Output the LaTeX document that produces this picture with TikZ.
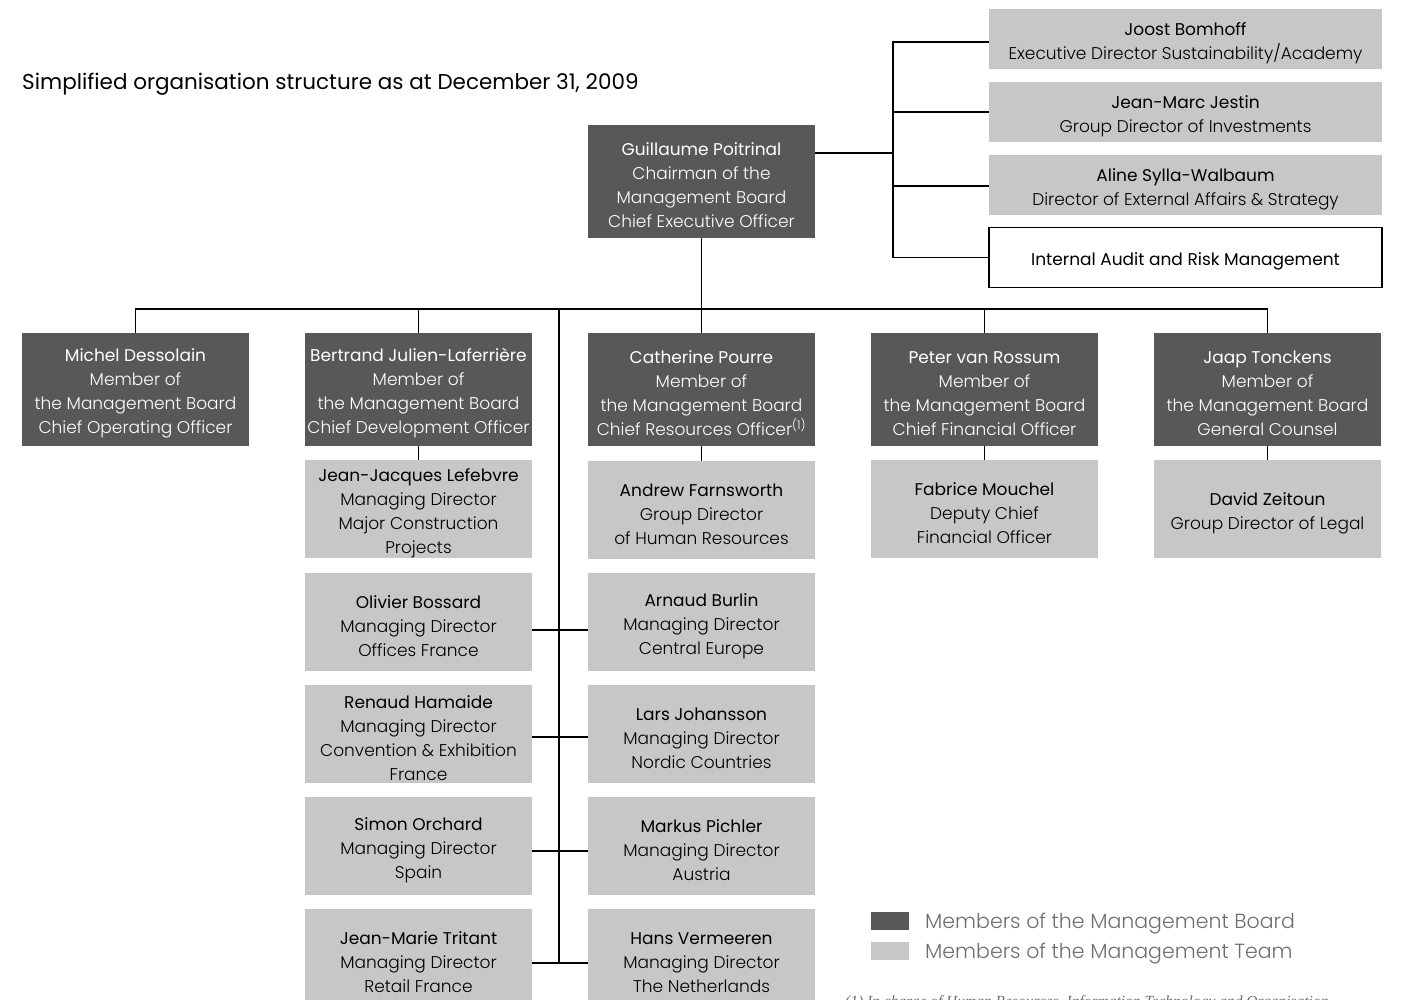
\documentclass[tikz,border=0pt]{standalone}
\usepackage{fontspec}
\setmainfont{Poppins Light}
\newfontfamily\namefont{Poppins}
\newfontfamily\notefont{Liberation Serif}
\usetikzlibrary{positioning}

\definecolor{boardgray}{HTML}{58585A}
\definecolor{teamgray}{HTML}{C6C7C9}
\definecolor{keygray}{HTML}{6D6E70}

\newcommand{\who}[1]{{\namefont\rule{0pt}{21pt}#1}}

\begin{document}
\begin{tikzpicture}[x=1pt,y=-1pt]
  \tikzstyle{every node}+=[inner sep=0pt]
  \tikzstyle{box}=[minimum width=227pt, minimum height=98pt, align=center, font=\fontsize{17}{24}\selectfont]
  \tikzstyle{board}=[box, fill=boardgray, text=white, minimum height=113pt]
  \tikzstyle{team}=[box, fill=teamgray, text=black]
  \tikzstyle{staff}=[box, fill=teamgray, minimum width=393pt, minimum height=60pt]
  \tikzstyle{audit}=[staff, fill=white, draw=black, line width=1.2pt]
  \tikzstyle{link}=[black, line width=1.2pt]
  \tikzstyle{key}=[minimum width=38pt, minimum height=18pt]
  \useasboundingbox (0,0) rectangle (1401,1000);

  \node[anchor=base west, font=\namefont\fontsize{21.5}{26}\selectfont] (title) at (22,90)
    {Simplified organisation structure as at December 31, 2009};

  % chairman and staff
  \node[board] (ceo) at (701.5,181.5) {\who{Guillaume Poitrinal}\\Chairman of the\\Management Board\\Chief Executive Officer};
  \node[staff] (joost) at (1185.5,39.5) {\who{Joost Bomhoff}\\Executive Director Sustainability/Academy};
  \node[staff] (jeanmarc) at (1185.5,112) {\who{Jean-Marc Jestin}\\Group Director of Investments};
  \node[staff] (aline) at (1185.5,185) {\who{Aline Sylla-Walbaum}\\Director of External Affairs \& Strategy};
  \node[audit] (audit) at (1185.5,257.5) {\who{Internal Audit and Risk Management}};
  \coordinate (hub) at (893,153);

  % management board
  \node[board] (michel) at (135.5,389.5) {\who{Michel Dessolain}\\Member of\\the Management Board\\Chief Operating Officer};
  \node[board] (bertrand) at (418.5,389.5) {\who{Bertrand Julien-Laferrière}\\Member of\\the Management Board\\Chief Development Officer};
  \node[board] (catherine) at (701.5,389.5) {\who{Catherine Pourre}\\Member of\\the Management Board\\Chief Resources Officer\textsuperscript{(1)}};
  \node[board] (peter) at (984.5,389.5) {\who{Peter van Rossum}\\Member of\\the Management Board\\Chief Financial Officer};
  \node[board] (jaap) at (1267.5,389.5) {\who{Jaap Tonckens}\\Member of\\the Management Board\\General Counsel};
  \coordinate (bus) at (701.5,309);
  \coordinate (spine) at (559,309);

  % management team
  \node[team] (jeanjacques) at (418.5,509) {\who{Jean-Jacques Lefebvre}\\Managing Director\\Major Construction\\Projects};
  \node[team] (andrew) at (701.5,510) {\who{Andrew Farnsworth}\\Group Director\\of Human Resources};
  \node[team] (fabrice) at (984.5,509) {\who{Fabrice Mouchel}\\Deputy Chief\\Financial Officer};
  \node[team] (david) at (1267.5,509) {\who{David Zeitoun}\\Group Director of Legal};

  \node[team] (olivier) at (418.5,622) {\who{Olivier Bossard}\\Managing Director\\Offices France};
  \node[team] (arnaud) at (701.5,622) {\who{Arnaud Burlin}\\Managing Director\\Central Europe};
  \node[team] (renaud) at (418.5,734) {\who{Renaud Hamaide}\\Managing Director\\Convention \& Exhibition\\France};
  \node[team] (lars) at (701.5,734) {\who{Lars Johansson}\\Managing Director\\Nordic Countries};
  \node[team] (simon) at (418.5,846) {\who{Simon Orchard}\\Managing Director\\Spain};
  \node[team] (markus) at (701.5,846) {\who{Markus Pichler}\\Managing Director\\Austria};
  \node[team] (jeanmarie) at (418.5,958) {\who{Jean-Marie Tritant}\\Managing Director\\Retail France};
  \node[team] (hans) at (701.5,958) {\who{Hans Vermeeren}\\Managing Director\\The Netherlands};

  % connectors
  \draw[link] ([yshift=28.5pt]ceo.east) -- (hub);
  \draw[link] ([yshift=-2.5pt]joost.west) -- ([yshift=-2.5pt]joost.west -| hub) -- (audit.west -| hub) -- (audit.west);
  \draw[link] (jeanmarc.west) -- (jeanmarc.west -| hub);
  \draw[link] ([yshift=-1pt]aline.west) -- ([yshift=-1pt]aline.west -| hub);
  \draw[link] (ceo.south) -- (bus);
  \draw[link] (michel.north) |- (jaap.north |- bus) -- (jaap.north);
  \foreach \b in {bertrand,catherine,peter}
    \draw[link] (\b.north) -- (\b.north |- bus);
  \draw[link] (spine) -- ([yshift=-5pt]jeanmarie.east -| spine);
  \draw[link] (bertrand.south) -- (jeanjacques.north);
  \draw[link] (catherine.south) -- (andrew.north);
  \draw[link] (peter.south) -- (fabrice.north);
  \draw[link] (jaap.south) -- (david.north);
  \foreach \l/\r/\s in {olivier/arnaud/8,renaud/lars/3,simon/markus/5,jeanmarie/hans/5}
    \draw[link] ([yshift=-\s pt]\l.east) -- ([yshift=-\s pt]\r.west);

  % key
  \node[key, fill=boardgray] (keyboard) at (890,921) {};
  \node[key, fill=teamgray] (keyteam) at (890,950.5) {};
  \node[anchor=west, text=keygray, font=\fontsize{20.5}{24}\selectfont] (keyboardtext) at (925,923) {Members of the Management Board};
  \node[anchor=west, text=keygray, font=\fontsize{20.5}{24}\selectfont] (keyteamtext) at (925,953) {Members of the Management Team};
  \node[anchor=north west, text=keygray, font=\notefont\itshape\fontsize{15.5}{18}\selectfont] (note) at (845,995.5)
    {(1) In charge of Human Resources, Information Technology and Organisation};
\end{tikzpicture}
\end{document}
